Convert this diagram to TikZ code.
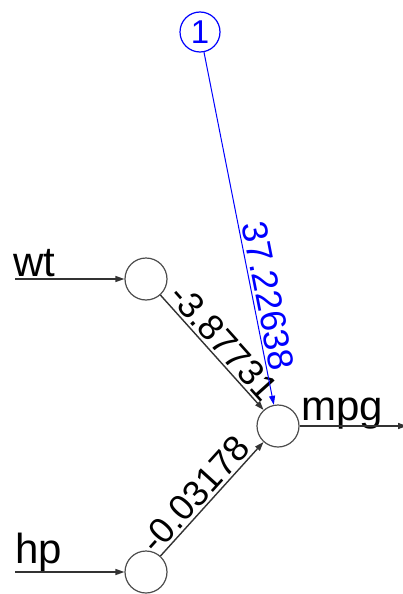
\documentclass[tikz,border=0pt]{standalone}
\usepackage{fontspec}
\setmainfont{Liberation Sans}
\usetikzlibrary{positioning, arrows.meta}

\begin{document}
\begin{tikzpicture}[x=1pt, y=1pt,
        every node/.style={font=\fontsize{36}{40}\selectfont},
        neuron/.style={circle, draw=black!70, line width=1.2pt, minimum size=42pt, inner sep=0pt},
        biasnode/.style={neuron, draw=blue, text=blue, minimum size=40pt, font=\fontsize{33}{36}\selectfont},
        varname/.style={anchor=base west, inner sep=0pt, font=\fontsize{42}{46}\selectfont},
        wire/.style={-{Triangle[length=9pt, width=6pt]}, draw=black!80, line width=1.4pt},
        biaswire/.style={wire, draw=blue, line width=1pt},
        weight/.style={sloped, above, inner sep=2.5pt}]
        \useasboundingbox (0,0) rectangle (403,-594);

        \node [biasnode] (B) at (200, -32) {1};
        \node [neuron] (WT) at (146, -279) {};
        \node [neuron] (HP) at (146, -572) {};
        \node [neuron] (MPG) at (278, -426) {};

        \coordinate (inWT) at (15, -279);
        \coordinate (inHP) at (15, -572);
        \coordinate (out) at (407, -426);

        \node [varname] (labWT) at (13, -276) {wt};
        \node [varname] (labHP) at (15, -563) {hp};
        \node [varname] (labMPG) at (301, -420) {mpg};

        \draw [wire] (inWT) -- (WT);
        \draw [wire] (inHP) -- (HP);
        \draw [wire] (WT) -- (MPG) node [weight, pos=0.5] {-3.87731};
        \draw [wire] (HP) -- (MPG) node [weight, pos=0.45] {-0.03178};
        \draw [biaswire] (B) -- (MPG) node [weight, pos=0.7, text=blue] {37.22638};
        \draw [wire] (MPG) -- (out);
    \end{tikzpicture}
\end{document}
